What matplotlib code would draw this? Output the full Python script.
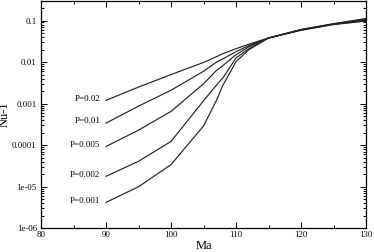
import matplotlib
matplotlib.use("Agg")
import matplotlib.pyplot as plt
from matplotlib.ticker import FixedLocator, FixedFormatter, LogLocator, NullFormatter, MultipleLocator

plt.rcParams['font.family'] = ['Liberation Serif', 'DejaVu Serif']

ma = [90, 95, 100, 105, 107, 108, 110, 112, 115, 120, 125, 130]
series_labels = ["P=0.02", "P=0.01", "P=0.005", "P=0.002", "P=0.001"]
p002 = [1.2e-3, 2.5e-3, 5.0e-3, 9.8e-3, 0.0135, 0.016, 0.021, 0.027, 0.038, 0.058, 0.080, 0.097]
p001 = [3.4e-4, 8.7e-4, 2.1e-3, 6.0e-3, 0.010, 0.012, 0.0178, 0.025, 0.038, 0.059, 0.081, 0.100]
p0005 = [9.3e-5, 2.3e-4, 6.5e-4, 3.0e-3, 6.3e-3, 8.3e-3, 0.015, 0.0234, 0.038, 0.060, 0.082, 0.104]
p0002 = [1.78e-5, 4.1e-5, 1.23e-4, 1.17e-3, 2.8e-3, 4.2e-3, 0.0126, 0.021, 0.038, 0.060, 0.083, 0.108]
p0001 = [4.2e-6, 1.0e-5, 3.4e-5, 2.9e-4, 1.2e-3, 2.8e-3, 0.0102, 0.020, 0.038, 0.061, 0.084, 0.112]
series = [p002, p001, p0005, p0002, p0001]

y_ticks = [1e-6, 1e-5, 1e-4, 1e-3, 1e-2, 1e-1]
y_ticklabels = ["1e-06", "1e-05", "0.0001", "0.001", "0.01", "0.1"]
x_ticks = [80, 90, 100, 110, 120, 130]
x_ticklabels = ["80", "90", "100", "110", "120", "130"]

fig = plt.figure(figsize=(3.74, 2.52), dpi=100)
ax = fig.add_axes([41/374, (252-228.3)/252, (366-41)/374, (228.3-0.7)/252])

for vals, lab in zip(series, series_labels):
    ax.plot(ma, vals, color='#222222', lw=0.85)
    ax.annotate(lab, xy=(ma[0], vals[0]), xytext=(-4, 1.2), textcoords='offset points',
                ha='right', va='center', fontsize=6.5)

ax.set_yscale('log')
ax.set_xlim(80, 130)
ax.set_ylim(1e-6, 0.3)

ax.yaxis.set_major_locator(FixedLocator(y_ticks))
ax.yaxis.set_major_formatter(FixedFormatter(y_ticklabels))
ax.yaxis.set_minor_locator(LogLocator(base=10, subs=range(2, 10), numticks=20))
ax.yaxis.set_minor_formatter(NullFormatter())
ax.xaxis.set_major_locator(FixedLocator(x_ticks))
ax.xaxis.set_major_formatter(FixedFormatter(x_ticklabels))
ax.xaxis.set_minor_locator(MultipleLocator(5))

ax.tick_params(which='both', direction='in', top=True, right=True, labelsize=6.3, width=0.7)
ax.tick_params(which='major', length=4)
ax.tick_params(which='minor', length=2)
ax.tick_params(axis='x', pad=2)
ax.tick_params(axis='y', pad=3)
for s in ax.spines.values():
    s.set_linewidth(0.9)

ax.set_xlabel("Ma", fontsize=9, labelpad=1)
ax.set_ylabel("Nu-1", fontsize=9)
ax.yaxis.set_label_coords(-0.092, 0.5)

fig.savefig("out.png", dpi=100)
